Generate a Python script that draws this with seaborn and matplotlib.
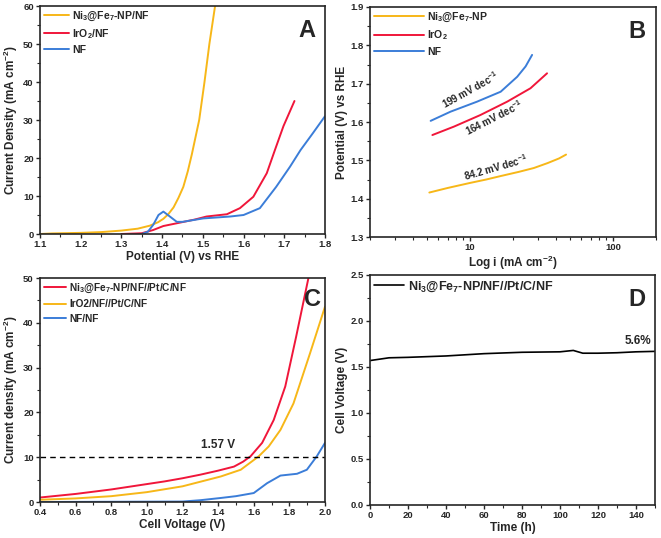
import numpy as np
import pandas as pd
import matplotlib
matplotlib.use("Agg")
import matplotlib.pyplot as plt
import seaborn as sns
from matplotlib.ticker import AutoMinorLocator

sns.set_style("ticks")
plt.rcParams["font.family"] = ["Liberation Sans", "DejaVu Sans"]
plt.rcParams["font.weight"] = "bold"
plt.rcParams["axes.labelweight"] = "bold"
plt.rcParams["mathtext.fontset"] = "custom"
plt.rcParams["mathtext.rm"] = "Liberation Sans:bold"
plt.rcParams["mathtext.it"] = "Liberation Sans:bold"
plt.rcParams["mathtext.bf"] = "Liberation Sans:bold"

YEL = "#F7B718"
RED = "#F0163A"
BLU = "#3B7DD8"

# --- Panel A: OER polarisation curves ---
a_ni_v = [1.10, 1.13, 1.20, 1.25, 1.30, 1.34, 1.37, 1.39, 1.403, 1.415, 1.428, 1.44, 1.452, 1.463, 1.473, 1.483, 1.491, 1.504, 1.516, 1.530]
a_ni_j = [0.0, 0.15, 0.3, 0.5, 0.9, 1.4, 2.2, 3.1, 4.0, 5.2, 7.0, 9.5, 12.4, 16.5, 21.0, 26.0, 30.0, 40.0, 50.0, 60.0]
a_ir_v = [1.30, 1.35, 1.378, 1.403, 1.444, 1.48, 1.509, 1.559, 1.591, 1.624, 1.657, 1.677, 1.698, 1.725]
a_ir_j = [0.0, 0.2, 1.05, 2.1, 3.0, 3.8, 4.6, 5.2, 6.8, 9.8, 16.0, 22.1, 28.4, 35.0]
a_nf_v = [1.35, 1.365, 1.378, 1.391, 1.403, 1.419, 1.436, 1.45, 1.501, 1.567, 1.60, 1.64, 1.68, 1.714, 1.74, 1.77, 1.80]
a_nf_j = [0.0, 0.6, 2.4, 5.0, 5.9, 4.6, 3.2, 3.2, 4.1, 4.6, 5.0, 6.8, 12.4, 17.7, 22.1, 26.5, 31.0]

# --- Panel B: Tafel plots ---
b_nf_i = [5.31, 7.32, 11.2, 16.4, 21.4, 24.5, 27.2]
b_nf_e = [1.603, 1.627, 1.653, 1.679, 1.718, 1.745, 1.775]
b_ir_i = [5.46, 7.73, 11.8, 18.2, 26.5, 34.6]
b_ir_e = [1.566, 1.588, 1.618, 1.653, 1.688, 1.727]
b_ni_i = [5.2, 7.0, 10.0, 13.0, 16.4, 22.0, 28.0, 35.0, 42.0, 47.0]
b_ni_e = [1.416, 1.428, 1.441, 1.450, 1.459, 1.470, 1.480, 1.493, 1.505, 1.515]

# --- Panel C: two-electrode polarisation ---
c_ni_v = [0.40, 0.50, 0.60, 0.70, 0.80, 0.90, 1.00, 1.10, 1.20, 1.30, 1.40, 1.489, 1.54, 1.582, 1.647, 1.712, 1.777, 1.838, 1.907]
c_ni_j = [1.0, 1.4, 1.8, 2.3, 2.8, 3.4, 4.0, 4.6, 5.3, 6.1, 7.0, 7.9, 9.0, 10.2, 13.2, 18.3, 25.8, 36.9, 50.0]
c_ir_v = [0.40, 0.60, 0.80, 1.00, 1.20, 1.415, 1.527, 1.628, 1.684, 1.75, 1.823, 1.916, 2.00]
c_ir_j = [0.5, 0.8, 1.3, 2.2, 3.5, 5.7, 7.2, 10.2, 12.4, 16.1, 22.0, 33.2, 43.6]
c_nf_v = [0.40, 0.80, 1.20, 1.30, 1.415, 1.50, 1.60, 1.675, 1.75, 1.843, 1.898, 1.954, 2.00]
c_nf_j = [0.0, 0.05, 0.1, 0.4, 0.9, 1.3, 2.0, 4.2, 5.9, 6.3, 7.2, 10.2, 13.2]

# --- Panel D: stability ---
d_t = [0, 10, 20, 40, 60, 80, 100, 107, 112, 120, 130, 140, 150]
d_v = [1.57, 1.60, 1.605, 1.62, 1.645, 1.66, 1.665, 1.68, 1.65, 1.65, 1.655, 1.665, 1.67]

fig = plt.figure(figsize=(6.61, 5.38), dpi=100)
W, H = 661, 538


def box(l, t, r, b):
    return [l / W, 1 - b / H, (r - l) / W, (b - t) / H]


axA = fig.add_axes(box(40, 6, 325, 234))
axB = fig.add_axes(box(370, 7, 656, 237))
axC = fig.add_axes(box(40, 278, 325, 502))
axD = fig.add_axes(box(370, 275, 655, 505))

lw = 1.4


def style(ax):
    for s in ax.spines.values():
        s.set_linewidth(1.2)
        s.set_visible(True)
    ax.tick_params(direction="out", length=3, width=1, labelsize=6.8, pad=1.5)
    ax.tick_params(which="minor", direction="out", length=2, width=0.8)
    for lab in ax.get_xticklabels() + ax.get_yticklabels():
        lab.set_fontweight("bold")


def curve(ax, x, y, color, label, width=lw):
    sns.lineplot(x=x, y=y, color=color, lw=width, ax=ax, label=label, estimator=None, sort=False)


# A
curve(axA, a_ni_v, a_ni_j, YEL, "Ni$_3$@Fe$_7$-NP/NF")
curve(axA, a_ir_v, a_ir_j, RED, "IrO$_2$/NF")
curve(axA, a_nf_v, a_nf_j, BLU, "NF")
axA.set_xlim(1.1, 1.8)
axA.set_ylim(0, 60)
axA.set_xticks(np.arange(1.1, 1.81, 0.1))
axA.set_yticks(range(0, 61, 10))
axA.xaxis.set_minor_locator(AutoMinorLocator(2))
axA.yaxis.set_minor_locator(AutoMinorLocator(2))
axA.set_xlabel("Potential (V) vs RHE", fontsize=8.5, labelpad=1)
axA.set_ylabel("Current Density (mA cm$^{-2}$)", fontsize=8.5, labelpad=2)
axA.text(0.965, 0.945, "A", transform=axA.transAxes, ha="right", va="top", fontsize=17, fontweight="bold")

# B
curve(axB, b_ni_i, b_ni_e, YEL, "Ni$_3$@Fe$_7$-NP")
curve(axB, b_ir_i, b_ir_e, RED, "IrO$_2$")
curve(axB, b_nf_i, b_nf_e, BLU, "NF")
axB.set_xscale("log")
axB.set_xlim(2, 200)
axB.set_ylim(1.3, 1.9)
axB.set_xticks([10, 100])
axB.set_xticklabels(["10", "100"])
axB.set_yticks(np.arange(1.3, 1.91, 0.1))
axB.yaxis.set_minor_locator(AutoMinorLocator(2))
axB.set_xlabel("Log i (mA cm$^{-2}$)", fontsize=8.5, labelpad=1)
axB.set_ylabel("Potential (V) vs RHE", fontsize=8.5, labelpad=2)
kw = dict(fontsize=7, fontweight="bold", ha="center", va="center", rotation_mode="anchor")
axB.text(10.0, 1.685, "199 mV dec$^{-1}$", rotation=29, **kw)
axB.text(14.7, 1.612, "164 mV dec$^{-1}$", rotation=27, **kw)
axB.text(15.1, 1.483, "84.2 mV dec$^{-1}$", rotation=16, **kw)
axB.text(0.965, 0.945, "B", transform=axB.transAxes, ha="right", va="top", fontsize=17, fontweight="bold")

# C
curve(axC, c_ni_v, c_ni_j, RED, "Ni$_3$@Fe$_7$-NP/NF//Pt/C/NF")
curve(axC, c_ir_v, c_ir_j, YEL, "IrO2/NF//Pt/C/NF")
curve(axC, c_nf_v, c_nf_j, BLU, "NF/NF")
axC.axhline(10, color="black", ls=(0, (4, 3)), lw=1)
axC.set_xlim(0.4, 2.0)
axC.set_ylim(0, 50)
axC.set_xticks(np.arange(0.4, 2.01, 0.2))
axC.set_yticks(range(0, 51, 10))
axC.xaxis.set_minor_locator(AutoMinorLocator(2))
axC.yaxis.set_minor_locator(AutoMinorLocator(2))
axC.set_xlabel("Cell Voltage (V)", fontsize=8.5, labelpad=1)
axC.set_ylabel("Current density (mA cm$^{-2}$)", fontsize=8.5, labelpad=2)
axC.text(1.40, 11.4, "1.57 V", fontsize=8.5, fontweight="bold", ha="center", va="bottom")
axC.text(0.985, 0.955, "C", transform=axC.transAxes, ha="right", va="top", fontsize=17, fontweight="bold")

# D
curve(axD, d_t, d_v, "black", "Ni$_3$@Fe$_7$-NP/NF//Pt/C/NF", width=1.2)
axD.set_xlim(0, 150)
axD.set_ylim(0, 2.5)
axD.set_xticks(range(0, 141, 20))
axD.set_yticks(np.arange(0, 2.51, 0.5))
axD.xaxis.set_minor_locator(AutoMinorLocator(2))
axD.yaxis.set_minor_locator(AutoMinorLocator(2))
axD.set_xlabel("Time (h)", fontsize=8.5, labelpad=1)
axD.set_ylabel("Cell Voltage (V)", fontsize=8.5, labelpad=2)
axD.text(141, 1.72, "5.6%", fontsize=8.5, fontweight="bold", ha="center", va="bottom")
axD.text(0.965, 0.945, "D", transform=axD.transAxes, ha="right", va="top", fontsize=17, fontweight="bold")

legend_opts = {
    axA: dict(fontsize=7.5, handlelength=2.4, labelspacing=0.4),
    axB: dict(fontsize=7.5, handlelength=4.8, labelspacing=0.45),
    axC: dict(fontsize=7.3, handlelength=2.2, labelspacing=0.45),
    axD: dict(fontsize=9, handlelength=2.4, labelspacing=0.45),
}
for ax, opts in legend_opts.items():
    style(ax)
    leg = ax.legend(loc="upper left", frameon=False, borderaxespad=0.15,
                    handletextpad=0.3, borderpad=0.2, **opts)
    for t in leg.get_texts():
        t.set_fontweight("bold")

fig.savefig("out.png", dpi=100)
